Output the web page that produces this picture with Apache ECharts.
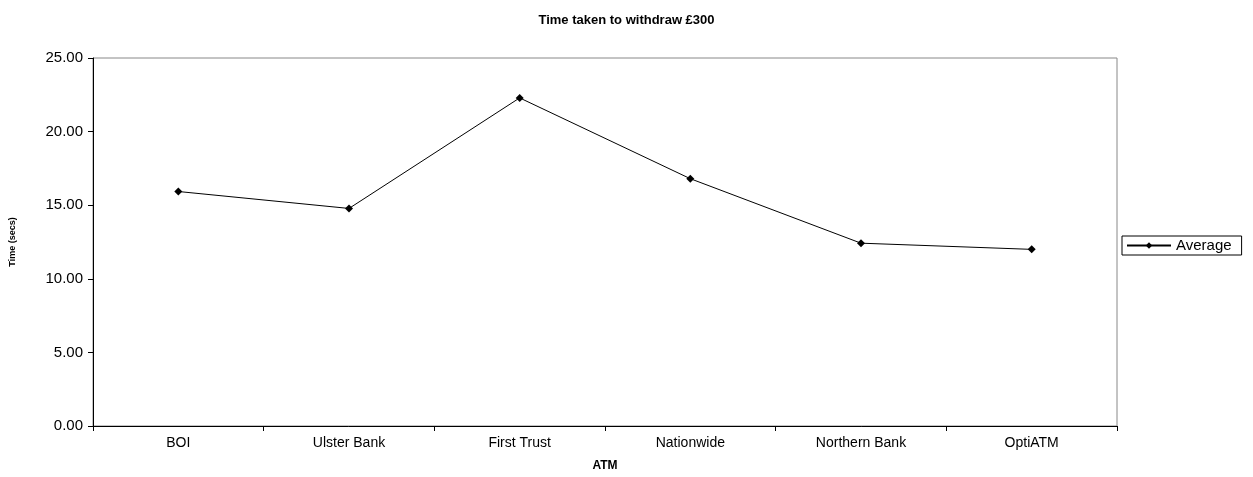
<!DOCTYPE html>
<html>
<head>
<meta charset="utf-8">
<script src="https://cdn.jsdelivr.net/npm/echarts@6/dist/echarts.min.js"></script>
<style>
  html, body { margin: 0; padding: 0; background: #fff; overflow: hidden; }
  #chart { width: 1253px; height: 477px; }
</style>
</head>
<body>
<div id="chart"></div>
<script>
// data
const atms = ['BOI', 'Ulster Bank', 'First Trust', 'Nationwide', 'Northern Bank', 'OptiATM'];
const average = [15.93, 14.78, 22.29, 16.8, 12.42, 12.0];

const chart = echarts.init(document.getElementById('chart'));

const option = {
    animation: false,
    textStyle: { fontFamily: 'Liberation Sans, Arial, sans-serif' },
    title: {
        text: 'Time taken to withdraw £300',
        left: 'center',
        top: 9,
        textStyle: { fontSize: 13, fontWeight: 'bold', color: '#000' }
    },
    legend: {
        orient: 'vertical',
        left: 1122,
        top: 236,
        padding: [2, 10, 2, 4],
        borderColor: '#000',
        borderWidth: 1,
        borderRadius: 0,
        itemWidth: 44,
        itemHeight: 8,
        itemGap: 4,
        textStyle: { fontSize: 15, color: '#000' },
        data: ['Average']
    },
    grid: {
        left: 93,
        top: 58,
        width: 1024,
        height: 377,
        show: true,
        borderColor: '#888',
        borderWidth: 1
    },
    xAxis: {
        type: 'category',
        data: atms,
        name: 'ATM',
        nameLocation: 'middle',
        nameGap: 34,
        nameTextStyle: { fontSize: 12, fontWeight: 'bold', color: '#000' },
        axisLine: { lineStyle: { color: '#000', width: 1 } },
        axisTick: { show: true, alignWithLabel: false, length: 5, lineStyle: { color: '#000' } },
        axisLabel: { fontSize: 14, color: '#000', margin: 10 }
    },
    yAxis: {
        type: 'value',
        min: 0,
        max: 25,
        interval: 5,
        name: 'Time (secs)',
        nameLocation: 'middle',
        nameGap: 76,
        nameTextStyle: { fontSize: 9, fontWeight: 'bold', color: '#000' },
        axisLine: { show: true, lineStyle: { color: '#000', width: 1 } },
        axisTick: { show: true, length: 5, lineStyle: { color: '#000' } },
        splitLine: { show: false },
        axisLabel: {
            fontSize: 15,
            color: '#000',
            margin: 10,
            formatter: v => v.toFixed(2)
        }
    },
    series: [{
        name: 'Average',
        type: 'line',
        data: average,
        symbol: 'diamond',
        symbolSize: 8,
        itemStyle: { color: '#000' },
        lineStyle: { color: '#000', width: 1 }
    }]
};

option && chart.setOption(option);
</script>
</body>
</html>
